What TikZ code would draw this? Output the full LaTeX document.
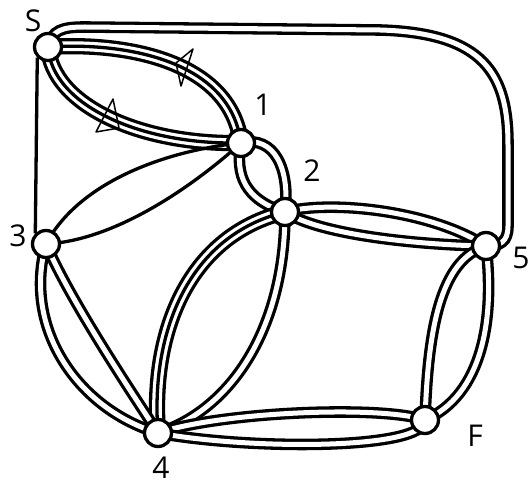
\documentclass[tikz,border=0pt]{standalone}
\usepackage{fontspec}
\setmainfont{Open Sans}
\pgfdeclarelayer{edges}
\pgfsetlayers{edges,main}
\tikzset{
 vtx/.style={circle, draw, fill=white, line width=3.3pt, minimum size=27pt, inner sep=0pt},
 tube/.style={line width=3.3pt, double=white, double distance=5pt},
 triple/.style={line width=3.3pt, preaction={draw=black, line width=16.3pt}, preaction={draw=white, line width=9.7pt}},
 single/.style={line width=3.3pt},
 lab/.style={font=\fontsize{30}{30}\selectfont, inner sep=0pt},
 marker/.style={line width=1.5pt, line join=round},
}
\begin{document}
\begin{tikzpicture}[x=1pt,y=-1pt]
\useasboundingbox (0,0) rectangle (531,486);
\clip (0,0) rectangle (531,486);
\node[vtx] (S) at (48,47) {};
\node[vtx] (n1) at (241,143) {};
\node[vtx] (n2) at (285,212) {};
\node[vtx] (n3) at (46,244) {};
\node[vtx] (n4) at (158,433) {};
\node[vtx] (n5) at (486,246) {};
\node[vtx] (F) at (425,420) {};
\node[lab] (lS) at (33,21) {S};
\node[lab] (l1) at (263,105) {1};
\node[lab] (l2) at (312,171) {2};
\node[lab] (l3) at (18,236) {3};
\node[lab] (l5) at (521,258) {5};
\node[lab] (lF) at (475,436) {F};
\node[lab] (l4) at (161,468) {4};
\draw[marker] (193,49) -- (176,63) -- (181,86) -- cycle;
\draw[marker] (113,99) -- (96,132) -- (119,128) -- cycle;
\begin{pgfonlayer}{edges}
 % S - 5
 \draw[tube] (S.center) .. controls (52,30) and (62,27) .. (85,27) -- (380,30) .. controls (485,33) and (508,75) .. (508,145) -- (508,226) .. controls (508,242) and (500,246) .. (n5.center);
 % S - 1 (two triple arcs)
 \draw[triple] (S.center) .. controls (120,42) and (230,58) .. (n1.center);
 \draw[triple] (S.center) .. controls (52,105) and (140,145) .. (n1.center);
 % S - 3
 \draw[single] (S.south west) -- (n3.north west);
 % 1 - 3
 \draw[single] (n3.center) .. controls (80,180) and (170,150) .. (n1.center);
 \draw[single] (n3.center) .. controls (120,240) and (200,180) .. (n1.center);
 % 1 - 2
 \draw[tube] (n1.center) .. controls (235,175) and (245,200) .. (n2.center);
 \draw[tube] (n1.center) .. controls (275,135) and (290,170) .. (n2.center);
 % 2 - 5
 \draw[tube] (n2.center) .. controls (330,200) and (430,210) .. (n5.center);
 \draw[tube] (n2.center) .. controls (320,235) and (420,245) .. (n5.center);
 % 2 - 4
 \draw[triple] (n2.center) .. controls (190,235) and (150,330) .. (n4.center);
 \draw[tube] (n2.center) .. controls (285,330) and (230,410) .. (n4.center);
 % 3 - 4
 \draw[tube] (n3.center) .. controls (22,330) and (80,410) .. (n4.center);
 \draw[tube] (n3.center) .. controls (70,300) and (130,390) .. (n4.center);
 % 4 - F
 \draw[tube] (n4.center) .. controls (220,412) and (380,405) .. (F.center);
 \draw[tube] (n4.center) .. controls (250,450) and (425,450) .. (F.center);
 % 5 - F
 \draw[tube] (n5.center) .. controls (440,260) and (428,330) .. (F.center);
 \draw[tube] (n5.center) .. controls (495,320) and (482,395) .. (F.center);
\end{pgfonlayer}
\end{tikzpicture}
\end{document}
